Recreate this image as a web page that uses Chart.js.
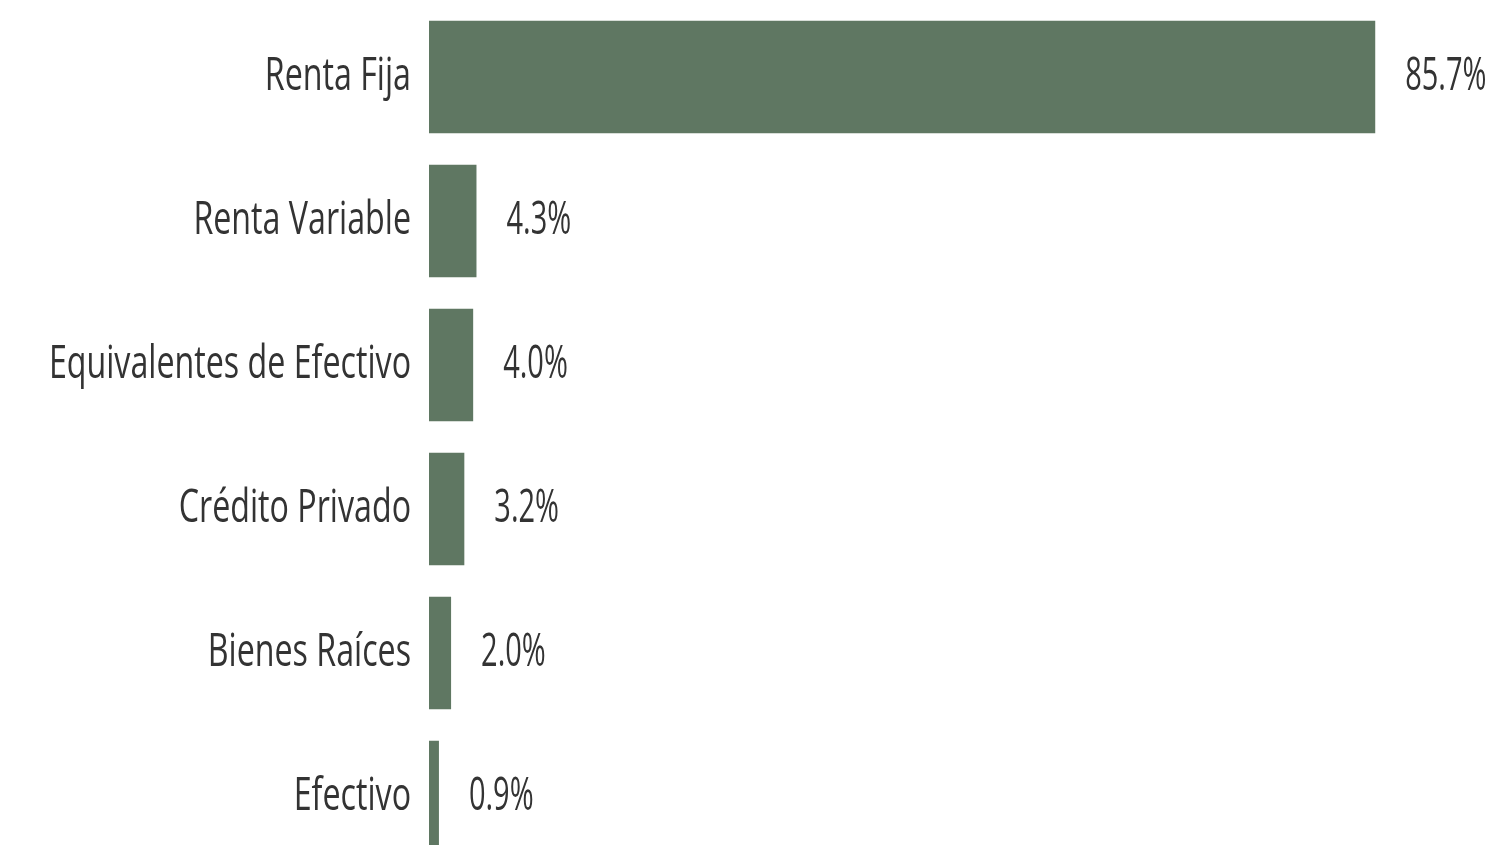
<!DOCTYPE html>
<html>
<head>
<meta charset="utf-8">
<script src="https://cdn.jsdelivr.net/npm/chart.js@4"></script>
<style>
html,body{margin:0;padding:0;background:#fff;overflow:hidden;}
#wrap{position:relative;width:1512px;height:845px;overflow:hidden;}
#c{display:block;}
</style>
</head>
<body>
<div id="wrap"><canvas id="c" width="1512" height="870"></canvas></div>
<script>
const categories = ["Renta Fija","Renta Variable","Equivalentes de Efectivo","Crédito Privado","Bienes Raíces","Efectivo"];
const values = [85.7, 4.3, 4.0, 3.2, 2.0, 0.9];
const valueLabels = ["85.7%","4.3%","4.0%","3.2%","2.0%","0.9%"];

const FONT = "'Open Sans', sans-serif";
const FONT_SIZE = 46;
const SX_CAT = 0.70;
const SX_VAL = 0.63;
const barColor = "#5f7762";
const textColor = "#333333";

function drawSqueezed(ctx, text, x, y, align, sx) {
  ctx.save();
  ctx.translate(x, y);
  ctx.scale(sx, 1);
  ctx.textAlign = align;
  ctx.fillText(text, 0, 0);
  ctx.restore();
}

const labelPlugin = {
  id: 'labelsDraw',
  afterDatasetsDraw(chart) {
    const ctx = chart.ctx;
    const meta = chart.getDatasetMeta(0);
    const yScale = chart.scales.y;
    ctx.save();
    ctx.font = FONT_SIZE + "px " + FONT;
    ctx.fillStyle = textColor;
    ctx.textBaseline = 'middle';
    categories.forEach((cat, i) => {
      const y = yScale.getPixelForTick(i);
      drawSqueezed(ctx, cat, yScale.right - 18, y, 'right', SX_CAT);
    });
    meta.data.forEach((bar, i) => {
      drawSqueezed(ctx, valueLabels[i], bar.x + 30, bar.y, 'left', SX_VAL);
    });
    ctx.restore();
  }
};

new Chart(document.getElementById('c'), {
  type: 'bar',
  data: {
    labels: categories,
    datasets: [{
      data: values,
      backgroundColor: barColor,
      borderWidth: 0,
      barPercentage: 0.78,
      categoryPercentage: 1.0
    }]
  },
  options: {
    indexAxis: 'y',
    responsive: false,
    animation: false,
    layout: { padding: { top: 5, bottom: 1, right: 12, left: 0 } },
    plugins: { legend: { display: false }, tooltip: { enabled: false } },
    scales: {
      x: { display: false, min: 0, max: 97 },
      y: {
        grid: { display: false },
        border: { display: false },
        ticks: { display: false },
        afterFit(scale) { scale.width = 429; }
      }
    }
  },
  plugins: [labelPlugin]
});
</script>
</body>
</html>
